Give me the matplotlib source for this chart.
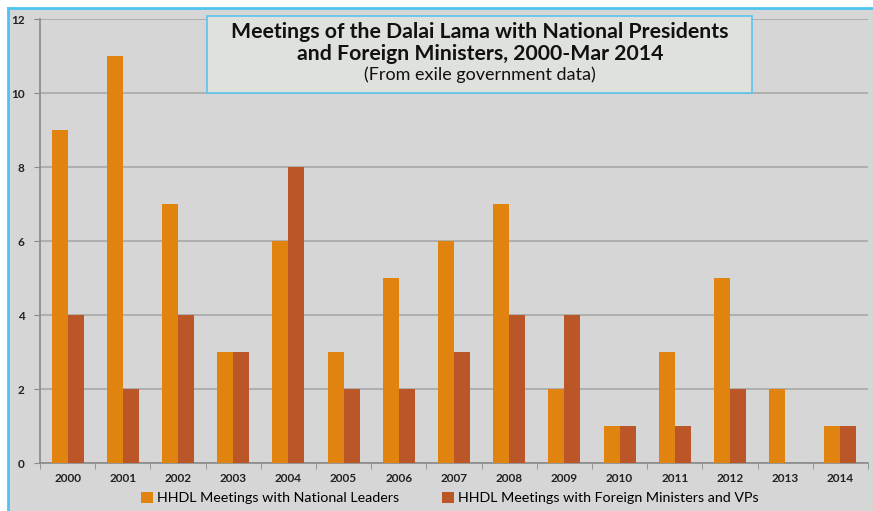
import matplotlib
matplotlib.use('agg')
import numpy as np
import matplotlib.pyplot as plt
from matplotlib.patches import Rectangle

years = ['2000', '2001', '2002', '2003', '2004', '2005', '2006', '2007',
         '2008', '2009', '2010', '2011', '2012', '2013', '2014']
leaders = [9, 11, 7, 3, 6, 3, 5, 6, 7, 2, 1, 3, 5, 2, 1]
ministers = [4, 2, 4, 3, 8, 2, 2, 3, 4, 4, 1, 1, 2, 0, 1]

W, H = 873, 511
col1 = '#e0830f'
col2 = '#ba5628'
bg = '#d6d6d6'

plt.rcParams['font.family'] = ['Lato', 'DejaVu Sans']

fig = plt.figure(figsize=(W / 100, H / 100), dpi=100)
fig.patch.set_facecolor('white')

# gray chart area with light blue border on top and left
fig.patches.append(Rectangle((8 / W, 0), 1, 1 - 8 / H, transform=fig.transFigure,
                             facecolor=bg, edgecolor='none', zorder=-10))
fig.lines.append(plt.Line2D([8 / W, 8 / W], [0, 1 - 8 / H], transform=fig.transFigure,
                            color='#4fc3f0', lw=2, zorder=-5))
fig.lines.append(plt.Line2D([8 / W, 1], [1 - 8 / H, 1 - 8 / H], transform=fig.transFigure,
                            color='#4fc3f0', lw=2, zorder=-5))

ax = fig.add_axes([40 / W, 48 / H, 828 / W, 444 / H])
ax.set_facecolor(bg)

x = np.arange(len(years))
width = 0.29
ax.bar(x - width / 2, leaders, width, color=col1, label='HHDL Meetings with National Leaders', zorder=3)
ax.bar(x + width / 2, ministers, width, color=col2, label='HHDL Meetings with Foreign Ministers and VPs', zorder=3)

ax.set_xlim(-0.5, len(years) - 0.5)
ax.set_ylim(0, 12)
ax.set_yticks(range(0, 13, 2))
ax.yaxis.grid(True, color='#a8a8a8', lw=1.2, zorder=0)

ax.set_xticks(x)
ax.set_xticklabels(years, fontsize=8.5, fontweight='bold', color='#222222')
ax.set_xticks(np.arange(-0.5, len(years)), minor=True)
ax.tick_params(axis='x', which='major', length=0, pad=7)
ax.tick_params(axis='x', which='minor', length=4, color='#8a8a8a', direction='out')
ax.tick_params(axis='y', length=4, color='#8a8a8a', labelsize=8.5, pad=7)
for lbl in ax.get_yticklabels():
    lbl.set_fontweight('bold')
    lbl.set_color('#222222')

for s in ['top', 'right']:
    ax.spines[s].set_visible(False)
ax.spines['left'].set_color('#8a8a8a')
ax.spines['bottom'].set_color('#8a8a8a')
ax.spines['left'].set_linewidth(1.2)
ax.spines['bottom'].set_linewidth(1.2)

# title box
fig.patches.append(Rectangle((207 / W, 1 - 93 / H), 545 / W, 77 / H, transform=fig.transFigure,
                             facecolor='#dfe1dc', edgecolor='#5bc3ee', lw=1.2, zorder=5))
fig.text(480 / W, 1 - 32 / H, 'Meetings of the Dalai Lama with National Presidents',
         ha='center', va='center', fontsize=15.3, fontweight='bold', color='#111111', zorder=6)
fig.text(480 / W, 1 - 54 / H, 'and Foreign Ministers, 2000-Mar 2014',
         ha='center', va='center', fontsize=15.3, fontweight='bold', color='#111111', zorder=6)
fig.text(480 / W, 1 - 75 / H, '(From exile government data)',
         ha='center', va='center', fontsize=13, color='#111111', zorder=6)

fig.legend(loc='center', bbox_to_anchor=(450 / W, 1 - 498 / H), ncol=2, frameon=False,
           fontsize=10.3, handlelength=0.8, handleheight=0.8, handletextpad=0.3, columnspacing=3)

fig.savefig('out.png', dpi=100, facecolor=fig.get_facecolor())
